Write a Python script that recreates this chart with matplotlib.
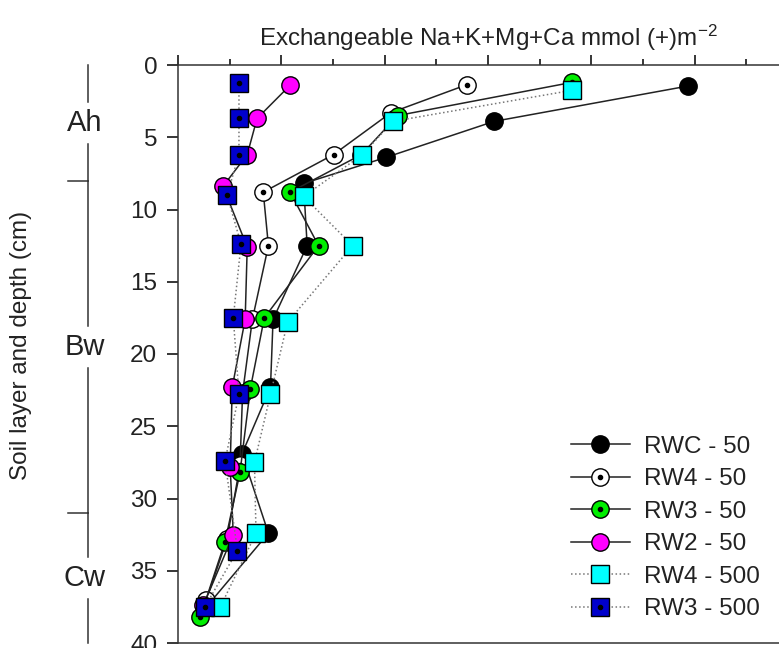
import matplotlib
matplotlib.use("Agg")
import matplotlib.pyplot as plt
from matplotlib.legend_handler import HandlerTuple

plt.rcParams['font.family'] = ['Liberation Sans', 'DejaVu Sans']
plt.rcParams['mathtext.fontset'] = 'custom'
plt.rcParams['mathtext.rm'] = 'Liberation Sans'
plt.rcParams['mathtext.default'] = 'regular'

# --- data: exchangeable cations (x) vs depth in cm (y) ---
rwc50_x = [98.8, 61.2, 40.2, 24.3, 25.0, 18.4, 17.9, 12.4, 17.5, 5.5]
rwc50_d = [1.45, 3.9, 6.4, 8.2, 12.5, 17.6, 22.3, 26.9, 32.4, 37.5]

rw4_50_x = [56.0, 41.2, 30.1, 16.5, 17.5, 14.4, 12.5, 12.0, 9.5, 5.5]
rw4_50_d = [1.35, 3.3, 6.2, 8.8, 12.5, 17.6, 22.7, 27.7, 32.8, 37.0]

rw3_50_x = [76.3, 42.5, 35.5, 21.7, 27.2, 16.7, 14.0, 12.0, 9.1, 4.3]
rw3_50_d = [1.2, 3.5, 6.2, 8.8, 12.5, 17.5, 22.4, 28.2, 33.0, 38.2]

rw2_50_x = [21.7, 15.3, 13.4, 8.7, 13.4, 13.0, 10.5, 10.1, 10.7, 4.9]
rw2_50_d = [1.4, 3.7, 6.2, 8.4, 12.6, 17.6, 22.3, 27.8, 32.5, 37.4]

rw4_500_x = [76.3, 41.6, 35.7, 24.3, 33.8, 21.2, 17.9, 14.8, 15.1, 8.2]
rw4_500_d = [1.75, 3.9, 6.2, 9.1, 12.5, 17.8, 22.8, 27.5, 32.4, 37.5]

rw3_500_x = [11.8, 11.8, 11.8, 9.5, 12.2, 10.7, 11.8, 9.1, 11.5, 5.2]
rw3_500_d = [1.25, 3.7, 6.2, 9.0, 12.4, 17.5, 22.8, 27.4, 33.6, 37.5]

horizons = ['Ah', 'Bw', 'Cw']
horizon_bounds = [0, 8, 31, 40]

# --- figure ---
W, H = 779, 648
fig = plt.figure(figsize=(W / 100, H / 100), dpi=100)
ax = fig.add_axes([178 / W, 5 / H, 620 / W, 578 / H])

fs = 17.5
ms = 12.5
series = [
    # x, depth, marker, face colour, centre dot, line style, label
    (rwc50_x, rwc50_d, 'o', 'black', False, '-', 'RWC - 50'),
    (rw4_50_x, rw4_50_d, 'o', 'white', True, '-', 'RW4 - 50'),
    (rw3_50_x, rw3_50_d, 'o', '#00ee00', True, '-', 'RW3 - 50'),
    (rw2_50_x, rw2_50_d, 'o', '#ff00ff', False, '-', 'RW2 - 50'),
    (rw4_500_x, rw4_500_d, 's', '#00ffff', False, ':', 'RW4 - 500'),
    (rw3_500_x, rw3_500_d, 's', '#0000cc', True, ':', 'RW3 - 500'),
]

handles, labels = [], []
for i, (x, d, mk, fc, dot, ls, lab) in enumerate(series):
    lc = '#222222' if ls == '-' else '#777777'
    ln, = ax.plot(x, d, ls=ls, color=lc, lw=1.1, marker=mk, ms=ms,
                  mfc=fc, mec='black', mew=1.0, zorder=3 + i, clip_on=False)
    h = ln
    if dot:
        dt, = ax.plot(x, d, ls='none', marker='o', ms=3, mfc='black',
                      mec='black', zorder=3 + i, clip_on=False)
        h = (ln, dt)
    handles.append(h)
    labels.append(lab)

ax.set_ylim(40, 0)
ax.set_xlim(0, 120)
ax.set_yticks(range(0, 41, 5))
ax.tick_params(axis='y', direction='out', length=8, width=1.1, labelsize=fs, pad=7,
               labelcolor='#222222')

ax.xaxis.tick_top()
ax.set_xticks(range(0, 121, 20))
ax.set_xticks(range(10, 121, 20), minor=True)
ax.tick_params(axis='x', which='major', direction='out', length=7, width=1.1, labeltop=False)
ax.tick_params(axis='x', which='minor', direction='out', length=4.5, width=1.1)
for s in ['top', 'left', 'bottom']:
    ax.spines[s].set_linewidth(1.1)
    ax.spines[s].set_color('#333333')
ax.spines['right'].set_visible(False)

ax.set_title('Exchangeable Na+K+Mg+Ca mmol (+)m$^{-2}$', fontsize=fs, pad=14,
             color='#222222')
ax.set_ylabel('Soil layer and depth (cm)', fontsize=fs, color='#222222')
ax.yaxis.set_label_coords(-0.236, 0.515)

# soil horizon bar on the left
tr = ax.get_yaxis_transform()
xl = -0.145
for k, name in enumerate(horizons):
    top, bot = horizon_bounds[k], horizon_bounds[k + 1]
    mid = (top + bot) / 2
    ax.plot([xl, xl], [top, mid - 1.45], color='#333333', lw=1.1, transform=tr, clip_on=False)
    ax.plot([xl, xl], [mid + 1.45, bot], color='#333333', lw=1.1, transform=tr, clip_on=False)
    ax.text(xl - 0.006, mid, name, transform=tr, ha='center', va='center', fontsize=21,
            color='#222222')
    if k > 0:
        ax.plot([xl - 0.032, xl], [top, top], color='#333333', lw=1.1, transform=tr, clip_on=False)

ax.legend(handles, labels, handler_map={tuple: HandlerTuple(ndivide=1)},
          loc='lower right', bbox_to_anchor=(782 / W, 6 / H), bbox_transform=fig.transFigure,
          frameon=False, fontsize=fs, handlelength=2.4, handletextpad=0.6,
          labelspacing=0.43, labelcolor='#222222')

fig.savefig('out.png', dpi=100)
